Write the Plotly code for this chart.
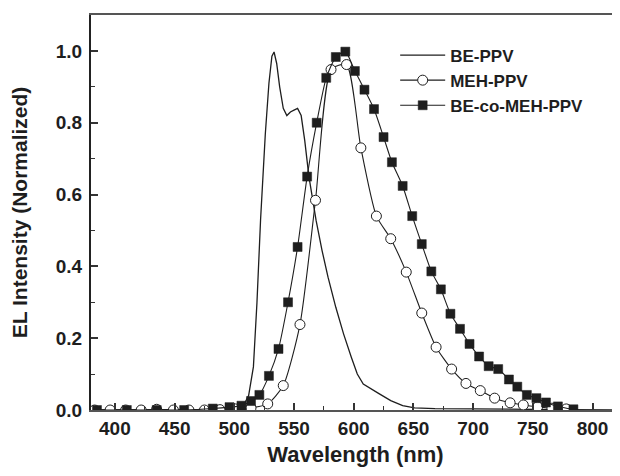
import plotly.graph_objects as go

# BE-PPV (solid line, no markers)
be_wl = [380, 400, 420, 440, 460, 480, 500, 507, 512, 516, 519, 522, 526, 529, 531.5, 533.3,
         535.5, 538, 541, 544, 547, 550, 553, 556, 559, 562.5, 565.5, 568.5, 573.5, 578.5,
         585, 591.5, 598, 603, 608, 615, 621.5, 631, 641, 651, 668, 700, 740, 780, 820]
be_val = [0, 0, 0, 0, 0, 0, 0.002, 0.008, 0.04, 0.12, 0.3, 0.53, 0.77, 0.91, 0.985, 0.997,
          0.965, 0.9, 0.84, 0.82, 0.83, 0.835, 0.84, 0.82, 0.75, 0.65, 0.584, 0.528, 0.444, 0.37,
          0.286, 0.212, 0.147, 0.1, 0.072, 0.059, 0.045, 0.026, 0.012, 0.006, 0.004, 0.003, 0.003, 0.001, 0]

# MEH-PPV (open circles)
meh_wl = [383, 396, 409, 422, 435, 449, 462, 475, 488, 501, 514, 528, 541, 555, 568, 581, 594,
          606, 619, 631, 644, 657, 669, 682, 694, 706, 718, 731, 742, 754, 766, 778]
meh_val = [0, 0, 0, 0, 0.002, 0, 0, 0, 0.001, 0.003, 0.006, 0.017, 0.068, 0.238, 0.584, 0.948, 0.962,
           0.73, 0.54, 0.477, 0.384, 0.27, 0.175, 0.114, 0.074, 0.054, 0.033, 0.02, 0.014, 0.009, 0.005, 0.003]

# BE-co-MEH-PPV (filled squares)
co_wl = [385, 410, 435, 458, 482, 496, 506, 514, 521, 529, 537, 545, 553, 561, 569, 577, 585, 593,
         601, 609, 617, 625, 632, 641, 649, 657, 665, 673, 681, 689, 697, 705, 713, 721, 730, 737,
         745, 753, 761, 771, 784]
co_val = [0, 0, 0, 0, 0.004, 0.008, 0.012, 0.025, 0.042, 0.095, 0.17, 0.30, 0.454, 0.65, 0.80, 0.925,
          0.983, 0.998, 0.944, 0.892, 0.838, 0.76, 0.69, 0.624, 0.54, 0.462, 0.386, 0.336, 0.268, 0.226,
          0.184, 0.149, 0.122, 0.114, 0.085, 0.065, 0.042, 0.033, 0.021, 0.01, 0.002]

x_ticks = [400, 450, 500, 550, 600, 650, 700, 750, 800]
y_ticks = [0.0, 0.2, 0.4, 0.6, 0.8, 1.0]
y_tick_labels = ["0.0", "0.2", "0.4", "0.6", "0.8", "1.0"]

ink = "#1e1e1e"
font_family = "Liberation Sans, Arial, sans-serif"

fig = go.Figure()
fig.add_trace(go.Scatter(x=be_wl, y=be_val, mode="lines", name="BE-PPV",
                         line=dict(color=ink, width=1.3)))
fig.add_trace(go.Scatter(x=meh_wl, y=meh_val, mode="lines+markers", name="MEH-PPV",
                         line=dict(color=ink, width=1.1, shape="spline", smoothing=0.6),
                         marker=dict(symbol="circle", size=10, color="white",
                                     line=dict(color=ink, width=1))))
fig.add_trace(go.Scatter(x=co_wl, y=co_val, mode="lines+markers", name="BE-co-MEH-PPV",
                         line=dict(color=ink, width=1.1, shape="spline", smoothing=0.6),
                         marker=dict(symbol="square", size=9, color=ink,
                                     line=dict(color=ink, width=0.5))))

# page body has an 8px margin, so the figure is sized to fill the remaining window
fig.update_layout(
    width=612, height=468,
    margin=dict(l=83, r=0, t=7, b=66),
    paper_bgcolor="white", plot_bgcolor="white",
    font=dict(family=font_family, color=ink),
    showlegend=True,
    legend=dict(x=0.575, y=0.943, xanchor="left", yanchor="top",
                bgcolor="rgba(0,0,0,0)", borderwidth=0,
                font=dict(size=17, family=font_family, color=ink, weight="bold"),
                itemwidth=45, tracegroupgap=0),
    xaxis=dict(range=[380, 823], tickmode="array", tickvals=x_ticks,
               ticks="inside", ticklen=7, tickwidth=1.5, tickcolor="#333",
               minor=dict(ticks="inside", ticklen=4, tickwidth=1.2, tickcolor="#333", dtick=25, tick0=375),
               showline=True, linecolor="#555", linewidth=2, mirror=True,
               showgrid=False, zeroline=False,
               tickfont=dict(size=19, family=font_family, color=ink, weight="bold"),
               title=dict(text="<b>Wavelength (nm)</b>", font=dict(size=22, color=ink),
                          standoff=9)),
    yaxis=dict(range=[0, 1.1], tickmode="array", tickvals=y_ticks, ticktext=y_tick_labels,
               ticks="inside", ticklen=7, tickwidth=1.5, tickcolor="#333",
               minor=dict(ticks="inside", ticklen=4, tickwidth=1.2, tickcolor="#333", dtick=0.1, tick0=0),
               showline=True, linecolor="#222", linewidth=2, mirror=False,
               showgrid=False, zeroline=False,
               tickfont=dict(size=19, family=font_family, color=ink, weight="bold"),
               ticklabelstandoff=3,
               title=dict(text="<b>EL Intensity (Normalized)</b>", font=dict(size=21, color=ink),
                          standoff=22)),
)

fig.write_html("out.html")
